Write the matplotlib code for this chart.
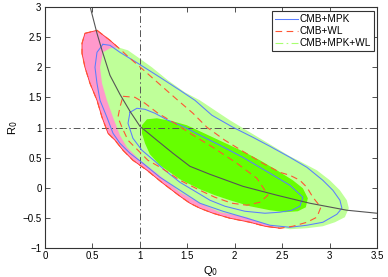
import matplotlib
matplotlib.use("Agg")
import matplotlib.pyplot as plt
from matplotlib.lines import Line2D

plt.rcParams['font.family'] = ['Liberation Sans', 'DejaVu Sans']

# ---- data (Q0, R0) ----
wl2_q = [0.548, 0.685, 0.769, 0.896, 1.054, 1.233, 1.401, 1.560, 1.707, 1.897, 2.086, 2.297,
         2.476, 2.582, 2.687, 2.761, 2.824, 2.908, 2.866, 2.761, 2.613, 2.476, 2.318, 2.160,
         1.949, 1.770, 1.633, 1.528, 1.423, 1.243, 1.075, 0.927, 0.822, 0.738, 0.664, 0.601,
         0.548, 0.474, 0.421, 0.390, 0.390, 0.421]
wl2_r = [2.613, 2.447, 2.331, 2.148, 1.933, 1.683, 1.451, 1.236, 1.004, 0.788, 0.605, 0.406,
         0.256, 0.207, 0.124, 0.007, -0.158, -0.324, -0.489, -0.573, -0.639, -0.672, -0.639, -0.573,
         -0.506, -0.423, -0.340, -0.257, -0.141, 0.074, 0.290, 0.456, 0.622, 0.788, 0.904, 1.169,
         1.451, 1.733, 1.999, 2.231, 2.397, 2.563]

wl1_q = [0.822, 0.948, 1.054, 1.191, 1.370, 1.528, 1.770, 2.023, 2.234, 2.297, 2.350, 2.266,
         2.129, 1.971, 1.791, 1.633, 1.423, 1.233, 1.085, 0.980, 0.875, 0.811, 0.769, 0.790]
wl1_r = [1.518, 1.501, 1.402, 1.236, 1.070, 0.904, 0.671, 0.406, 0.157, 0.007, -0.124, -0.240,
         -0.290, -0.257, -0.158, -0.042, 0.124, 0.323, 0.456, 0.622, 0.788, 1.004, 1.169, 1.335]

all2_q = [0.611, 0.685, 0.769, 0.875, 0.980, 1.127, 1.296, 1.475, 1.633, 1.791, 1.949, 2.160,
          2.318, 2.476, 2.582, 2.687, 2.866, 3.003, 3.109, 3.182, 3.203, 3.161, 3.056, 2.929,
          2.761, 2.582, 2.403, 2.266, 2.129, 1.844, 1.633, 1.423, 1.180, 1.001, 0.864, 0.790,
          0.717, 0.653, 0.601, 0.580]
all2_r = [2.248, 2.314, 2.331, 2.281, 2.165, 1.999, 1.783, 1.584, 1.451, 1.285, 1.120, 0.920,
          0.771, 0.622, 0.522, 0.439, 0.290, 0.124, -0.042, -0.207, -0.340, -0.489, -0.573, -0.639,
          -0.672, -0.689, -0.639, -0.573, -0.489, -0.406, -0.257, -0.075, 0.240, 0.456, 0.671, 0.871,
          1.169, 1.451, 1.733, 1.999]

all1_q = [1.022, 1.075, 1.180, 1.349, 1.496, 1.633, 1.791, 1.949, 2.107, 2.266, 2.445, 2.613,
          2.719, 2.771, 2.750, 2.666, 2.529, 2.371, 2.160, 1.949, 1.791, 1.633, 1.528, 1.423,
          1.317, 1.212, 1.106, 1.054, 1.022]
all1_r = [1.037, 1.136, 1.153, 1.103, 1.037, 0.937, 0.821, 0.705, 0.589, 0.456, 0.290, 0.124,
          -0.009, -0.174, -0.324, -0.390, -0.406, -0.373, -0.307, -0.207, -0.124, -0.025, 0.057, 0.140,
          0.256, 0.373, 0.555, 0.738, 0.904]

mpk2_q = [0.611, 0.685, 0.790, 0.980, 1.212, 1.423, 1.581, 1.760, 1.981, 2.192, 2.371, 2.582,
          2.761, 2.929, 3.035, 3.109, 3.130, 3.077, 2.929, 2.761, 2.582, 2.371, 2.129, 1.876,
          1.633, 1.423, 1.212, 1.033, 0.896, 0.790, 0.717, 0.653, 0.580, 0.548, 0.527, 0.548]
mpk2_r = [2.381, 2.364, 2.248, 2.065, 1.833, 1.617, 1.451, 1.203, 1.004, 0.837, 0.688, 0.505,
          0.339, 0.124, -0.042, -0.207, -0.340, -0.440, -0.573, -0.622, -0.656, -0.622, -0.506, -0.390,
          -0.257, -0.042, 0.174, 0.406, 0.572, 0.738, 0.904, 1.169, 1.451, 1.733, 1.999, 2.248]

mpk1_q = [0.896, 0.969, 1.054, 1.159, 1.296, 1.475, 1.633, 1.844, 2.086, 2.371, 2.582, 2.719,
          2.687, 2.603, 2.476, 2.318, 2.107, 1.897, 1.739, 1.581, 1.423, 1.264, 1.159, 1.022,
          0.927, 0.875]
mpk1_r = [1.252, 1.319, 1.302, 1.236, 1.120, 1.004, 0.871, 0.705, 0.505, 0.240, 0.041, -0.158,
          -0.307, -0.373, -0.406, -0.423, -0.390, -0.307, -0.207, -0.058, 0.090, 0.290, 0.439, 0.622,
          0.821, 1.070]

curve_q = [0.46, 0.548, 0.601, 0.685, 0.790, 0.896, 1.001, 1.180, 1.349, 1.528, 1.739, 2.086,
           2.445, 2.792, 3.182, 3.5]
curve_r = [3.1, 2.563, 2.281, 1.866, 1.551, 1.269, 1.020, 0.788, 0.572, 0.356, 0.223, 0.024,
           -0.124, -0.257, -0.373, -0.423]

labels = ['CMB+MPK', 'CMB+WL', 'CMB+MPK+WL']
xticks = [0, 0.5, 1, 1.5, 2, 2.5, 3, 3.5]
yticks = [-1, -0.5, 0, 0.5, 1, 1.5, 2, 2.5, 3]

PINK = '#ff99cc'
LGREEN = '#bfff99'
BGREEN = '#66ff00'
BLUE = '#5a7dff'
RED = '#ff5533'
DASH = (0, (6, 4))
DASHDOT = (0, (7, 3, 1.5, 3))

fig = plt.figure(figsize=(3.88, 2.77), dpi=100)
ax = fig.add_axes([45/388, 1-248/277, 332/388, 241/277])

def closed(a):
    return list(a) + [a[0]]

ax.fill(wl2_q, wl2_r, color=PINK, lw=0, zorder=1)
ax.plot(closed(wl2_q), closed(wl2_r), color='#ff2a2a', lw=0.6, zorder=1.5)
ax.fill(all2_q, all2_r, color=LGREEN, lw=0, zorder=2)
ax.fill(all1_q, all1_r, color=BGREEN, lw=0, zorder=3)

ax.axvline(1, color='#555555', lw=0.7, ls=DASHDOT, zorder=4)
ax.axhline(1, color='#555555', lw=0.7, ls=DASHDOT, zorder=4)

ax.plot(closed(mpk2_q), closed(mpk2_r), color=BLUE, lw=0.75, zorder=5)
ax.plot(closed(mpk1_q), closed(mpk1_r), color=BLUE, lw=0.75, zorder=5)
ax.plot(closed(wl2_q), closed(wl2_r), color=RED, lw=0.8, ls=DASH, zorder=5)
ax.plot(closed(wl1_q), closed(wl1_r), color=RED, lw=0.8, ls=DASH, zorder=5)

ax.plot(curve_q, curve_r, color='#555555', lw=0.8, zorder=6)

ax.set_xlim(0, 3.5)
ax.set_ylim(-1, 3)
ax.set_xticks(xticks)
ax.set_yticks(yticks)
ax.set_xticklabels(['0', '0.5', '1', '1.5', '2', '2.5', '3', '3.5'])
ax.set_yticklabels(['\u22121', '\u22120.5', '0', '0.5', '1', '1.5', '2', '2.5', '3'])
ax.tick_params(direction='in', length=3.5, width=0.6, labelsize=7, top=True, right=True,
               colors='#333333', labelcolor='black', pad=2.5)
for s in ax.spines.values():
    s.set_linewidth(0.8)
    s.set_color('#333333')
ax.set_xlabel('Q$_0$', fontsize=8, labelpad=2)
ax.set_ylabel('R$_0$', fontsize=8, labelpad=2)

handles = [Line2D([], [], color=BLUE, lw=0.75),
           Line2D([], [], color=RED, lw=0.8, ls=DASH),
           Line2D([], [], color='#a8ff70', lw=0.8, ls=DASHDOT)]
leg = ax.legend(handles, labels, loc='upper right', bbox_to_anchor=(0.991, 0.983),
                borderaxespad=0, fontsize=7.2, handlelength=2.3, handletextpad=0.15,
                labelspacing=0.2, borderpad=0.3, fancybox=False, framealpha=1)
leg.get_frame().set_edgecolor('#333333')
leg.get_frame().set_linewidth(0.8)
leg.set_zorder(10)

fig.savefig('out.png', dpi=100)
